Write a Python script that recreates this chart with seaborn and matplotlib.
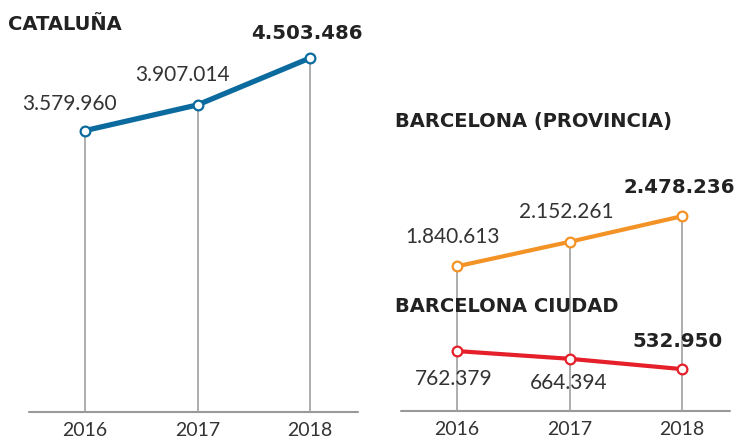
import numpy as np
import pandas as pd
import matplotlib
matplotlib.use("Agg")
import matplotlib.pyplot as plt
import seaborn as sns

# datos
years = [2016, 2017, 2018]
cataluna = [3579960, 3907014, 4503486]
provincia = [1840613, 2152261, 2478236]
ciudad = [762379, 664394, 532950]
labels_cat = ["3.579.960", "3.907.014", "4.503.486"]
labels_prov = ["1.840.613", "2.152.261", "2.478.236"]
labels_ciu = ["762.379", "664.394", "532.950"]

sns.set_theme(style="white")
plt.rcParams["font.family"] = ["Lato", "DejaVu Sans"]

W, H = 741, 440
fig = plt.figure(figsize=(W / 100, H / 100), dpi=100)

PX_PER_M = 78.6        # pixels per million
XMIN, XMAX = 2016 - 56 / 112.5, 2018 + 48 / 112.5
TXT = "#333333"
GREY = "#a0a0a0"
BOLD_FONT = ["DejaVu Sans"]


def make_ax(left, right, base):
    ax = fig.add_axes([left / W, (H - base) / H, (right - left) / W, base / H])
    ax.set_xlim(XMIN, XMAX)
    ax.set_ylim(0, base / PX_PER_M * 1e6)
    for s in ax.spines.values():
        s.set_visible(False)
    ax.axhline(0, color="#999999", lw=1.5, zorder=1, clip_on=False)
    ax.set_yticks([])
    ax.set_xticks(years)
    ax.set_xticklabels([str(y) for y in years], fontsize=14, color=TXT)
    ax.tick_params(axis="x", length=0, pad=7)
    ax.patch.set_alpha(0)
    return ax


def draw_line(ax, vals, color, lw):
    df = pd.DataFrame({"year": years, "value": vals})
    sns.lineplot(data=df, x="year", y="value", ax=ax, color=color, lw=lw,
                 marker="o", markersize=7, markerfacecolor="white",
                 markeredgecolor=color, markeredgewidth=1.6, zorder=3)
    ax.set_xlabel("")
    ax.set_ylabel("")


def label(ax, x, y, txt, dx, dy, bold=False):
    if bold:
        ax.annotate(txt, (x, y), xytext=(dx, dy), textcoords="offset pixels",
                    ha="center", va="center", fontsize=14.2, color="#222222",
                    fontweight="bold", family=BOLD_FONT)
    else:
        ax.annotate(txt, (x, y), xytext=(dx, dy), textcoords="offset pixels",
                    ha="center", va="center", fontsize=15, color=TXT)


# ---- Cataluña
ax1 = make_ax(29, 358, 412)
ax1.vlines(years, 0, cataluna, color=GREY, lw=1.2, zorder=2)
draw_line(ax1, cataluna, "#0b6a9e", 3.8)
offs = [(-16, 27), (-15, 30), (-3, 25)]
for i in range(3):
    label(ax1, years[i], cataluna[i], labels_cat[i], offs[i][0], offs[i][1], bold=(i == 2))

# ---- Barcelona
ax2 = make_ax(401, 730, 411)
ax2.vlines(years, 0, provincia, color=GREY, lw=1.2, zorder=2)
draw_line(ax2, provincia, "#f39325", 3.0)
draw_line(ax2, ciudad, "#e5202a", 3.0)
offs = [(-4, 29), (-3, 30), (-3, 29)]
for i in range(3):
    label(ax2, years[i], provincia[i], labels_prov[i], offs[i][0], offs[i][1], bold=(i == 2))
offs = [(-3, -28), (-1, -24), (-4, 28)]
for i in range(3):
    label(ax2, years[i], ciudad[i], labels_ciu[i], offs[i][0], offs[i][1], bold=(i == 2))

# titulos
for x, y, t in [(8, 25, "CATALUÑA"), (395, 121, "BARCELONA (PROVINCIA)"),
                (395, 306, "BARCELONA CIUDAD")]:
    fig.text(x / W, 1 - y / H, t, fontsize=14, fontweight="bold", color="#222222",
             va="center", family=BOLD_FONT)

fig.savefig("out.png", dpi=100)
